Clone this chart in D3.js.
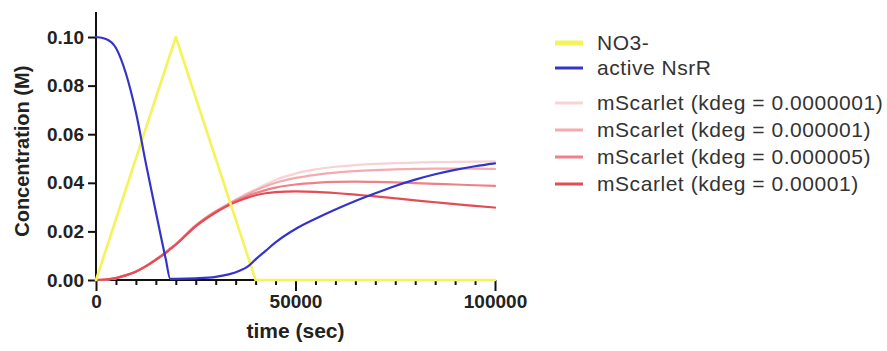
<!DOCTYPE html>
<html>
<head>
<meta charset="utf-8">
<script src="https://cdn.jsdelivr.net/npm/d3@7"></script>
<style>
  html, body { margin: 0; padding: 0; background: #fff; }
  svg { display: block; }
  text { font-family: "Liberation Sans", Arial, sans-serif; }
</style>
</head>
<body>
<svg id="chart" width="887" height="351"></svg>
<script>
// Time grid (seconds) shared by the simulated species
const timeSec = [0, 2500, 5000, 7500, 10000, 12500, 15000, 17500, 18600, 20000,
  25000, 30000, 33000, 36000, 38000, 40000, 42500, 45000, 50000, 55000, 60000,
  65000, 70000, 75000, 80000, 85000, 90000, 95000, 100000];

// Nitrate pulse: ramps up to 0.1 M, then back down
const no3Time = [0, 20000, 40000, 100000];
const no3Conc = [0, 0.1, 0, 0];

const nsrrConc = [0.1000, 0.0992, 0.0955, 0.0850, 0.0690, 0.0480, 0.0280, 0.0085, 0.0005, 0.0005,
  0.0007, 0.0013, 0.0022, 0.0038, 0.0055, 0.0085, 0.0120, 0.0155, 0.0210, 0.0252, 0.0290,
  0.0325, 0.0357, 0.0387, 0.0413, 0.0435, 0.0453, 0.0468, 0.0480];

const mScarletK1e7 = [0, 0.0002, 0.0008, 0.0020, 0.0035, 0.0058, 0.0085, 0.0115, 0.0130, 0.0148,
  0.0226, 0.0284, 0.0312, 0.0340, 0.0357, 0.0373, 0.0393, 0.0412, 0.0438, 0.0455, 0.0466,
  0.0473, 0.0478, 0.0481, 0.0483, 0.0485, 0.0486, 0.0487, 0.0488];
const mScarletK1e6 = [0, 0.0002, 0.0008, 0.0020, 0.0035, 0.0058, 0.0085, 0.0115, 0.0130, 0.0148,
  0.0225, 0.0283, 0.0311, 0.0338, 0.0354, 0.0369, 0.0386, 0.0400, 0.0420, 0.0433, 0.0442,
  0.0448, 0.0452, 0.0455, 0.0457, 0.0458, 0.0458, 0.0458, 0.0457];
const mScarletK5e6 = [0, 0.0002, 0.0008, 0.0020, 0.0035, 0.0057, 0.0084, 0.0114, 0.0129, 0.0147,
  0.0224, 0.0281, 0.0309, 0.0333, 0.0347, 0.0358, 0.0370, 0.0380, 0.0393, 0.0400, 0.0404,
  0.0405, 0.0404, 0.0402, 0.0399, 0.0396, 0.0393, 0.0390, 0.0387];
const mScarletK1e5 = [0, 0.0002, 0.0008, 0.0019, 0.0034, 0.0056, 0.0083, 0.0112, 0.0127, 0.0145,
  0.0221, 0.0278, 0.0306, 0.0327, 0.0339, 0.0349, 0.0357, 0.0362, 0.0365, 0.0363, 0.0358,
  0.0351, 0.0344, 0.0336, 0.0328, 0.0320, 0.0312, 0.0305, 0.0298];

const seriesNames = ["NO3-", "active NsrR", "mScarlet (kdeg = 0.0000001)",
  "mScarlet (kdeg = 0.000001)", "mScarlet (kdeg = 0.000005)", "mScarlet (kdeg = 0.00001)"];
const seriesColors = ["#f4f45a", "#3434cc", "#f8d2d4", "#f5aab0", "#ee8088", "#e44c54"];

const yTicks = [0, 0.02, 0.04, 0.06, 0.08, 0.10];
const xTicks = [0, 50000, 100000];
const xMinorStep = 5000;

const svg = d3.select("#chart");
const x = d3.scaleLinear().domain([0, 100000]).range([96, 495]);
const y = d3.scaleLinear().domain([0, 0.1103]).range([280, 12]);

// y axis
const yAxis = svg.append("g").attr("transform", "translate(96,0)")
  .call(d3.axisLeft(y).tickValues(yTicks).tickFormat(d3.format(".2f")).tickSize(8).tickPadding(4));
yAxis.select(".domain").attr("d", `M0,${y.range()[1]}V${y(0)}`);

// x axis with minor ticks
const minorTicks = d3.range(0, 100001, xMinorStep).filter(v => !xTicks.includes(v));
const xMinor = svg.append("g").attr("transform", "translate(0,280)")
  .call(d3.axisBottom(x).tickValues(minorTicks).tickSize(5).tickFormat(""));
xMinor.select(".domain").remove();
const xAxis = svg.append("g").attr("transform", "translate(0,280)")
  .call(d3.axisBottom(x).tickValues(xTicks).tickFormat(d3.format("d")).tickSize(11).tickPadding(4));
xAxis.select(".domain").attr("d", `M${x(0)},0H${x(100000)}`);

svg.selectAll(".domain, .tick line").attr("stroke", "#111").attr("stroke-width", 2);
svg.selectAll(".tick text").attr("fill", "#222").attr("font-size", 19).attr("font-weight", "bold")
  .attr("font-family", "'Liberation Sans', Arial, sans-serif");

// axis titles
svg.append("text").attr("x", x(50000)).attr("y", 338).attr("text-anchor", "middle")
  .attr("font-size", 21).attr("font-weight", "bold").attr("fill", "#222").text("time (sec)");
svg.append("text").attr("transform", `translate(29,${y(0.053)}) rotate(-90)`)
  .attr("text-anchor", "middle").attr("font-size", 20).attr("font-weight", "bold")
  .attr("fill", "#222").text("Concentration (M)");

// curves
const smooth = d3.line().x(d => x(d[0])).y(d => y(d[1])).curve(d3.curveMonotoneX);
const straight = d3.line().x(d => x(d[0])).y(d => y(d[1]));
const zipT = vals => timeSec.map((t, i) => [t, vals[i]]);

const plot = svg.append("g").attr("fill", "none").attr("stroke-width", 2.2)
  .attr("stroke-linejoin", "round").attr("stroke-linecap", "round");
[mScarletK1e7, mScarletK1e6, mScarletK5e6, mScarletK1e5].forEach((vals, i) => {
  plot.append("path").attr("d", smooth(zipT(vals))).attr("stroke", seriesColors[i + 2]);
});
plot.append("path").attr("d", straight(no3Time.map((t, i) => [t, no3Conc[i]])))
  .attr("stroke", seriesColors[0]).attr("stroke-width", 2.6);
plot.append("path").attr("d", smooth(zipT(nsrrConc))).attr("stroke", seriesColors[1]);

// legend
const legendY = [43, 68, 103, 130, 157, 184];
const legend = svg.append("g");
seriesNames.forEach((name, i) => {
  legend.append("line").attr("x1", 555).attr("x2", 583).attr("y1", legendY[i]).attr("y2", legendY[i])
    .attr("stroke", seriesColors[i]).attr("stroke-width", i === 0 ? 5 : 3);
  legend.append("text").attr("x", 597).attr("y", legendY[i]).attr("dy", "0.35em")
    .attr("font-size", 21).attr("letter-spacing", 0.55).attr("fill", "#333").text(name);
});
</script>
</body>
</html>
